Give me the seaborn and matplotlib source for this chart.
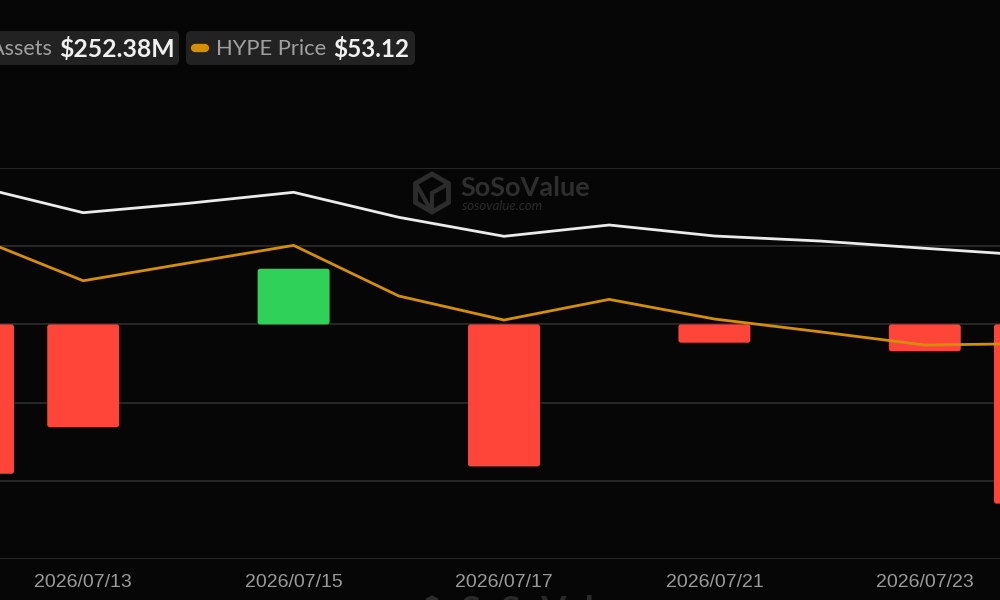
import numpy as np
import pandas as pd
import matplotlib
matplotlib.use("Agg")
import matplotlib.pyplot as plt
import seaborn as sns
from matplotlib.patches import FancyBboxPatch, RegularPolygon

# daily values, trading days only
DATES = ['2026/07/10', '2026/07/13', '2026/07/14', '2026/07/15', '2026/07/16', '2026/07/17',
         '2026/07/20', '2026/07/21', '2026/07/22', '2026/07/23', '2026/07/24']
NET_INFLOW = [-9.55, -6.57, 0.0, 3.56, 0.0, -9.08, 0.0, -1.17, 0.0, -1.71, -11.46]  # $M
NET_ASSETS = [293.42, 277.94, 283.58, 290.18, 275.18, 263.78, 270.56, 263.96, 260.96, 256.58, 252.38]  # $M
HYPE_PRICE = [61.54, 58.15, 59.57, 60.98, 56.93, 55.01, 56.66, 55.09, 54.07, 53.01, 53.12]
TICK_DATES = ['2026/07/13', '2026/07/15', '2026/07/17', '2026/07/21', '2026/07/23']

BG = '#060606'
GRID = '#2d2d2d'
RED = '#ff453a'
GREEN = '#30d158'
ORANGE = '#d48f06'
WHITE = '#ebebeb'
MARK = '#2c2c2c'

sns.set_style('dark', {'axes.facecolor': BG, 'figure.facecolor': BG})
plt.rcParams['font.family'] = ['Liberation Sans', 'DejaVu Sans']

df = pd.DataFrame({'date': DATES, 'inflow': NET_INFLOW, 'assets': NET_ASSETS, 'price': HYPE_PRICE})
df['sign'] = np.where(df['inflow'] >= 0, 'in', 'out')
df['pos'] = np.arange(len(df))

fig = plt.figure(figsize=(10, 6), dpi=100)
ax = fig.add_axes([0, 41 / 600, 1, 391 / 600])
ax.patch.set_visible(False)  # let the watermark underneath show through

sns.barplot(data=df, x='date', y='inflow', hue='sign', palette={'in': GREEN, 'out': RED},
            dodge=False, width=0.684, legend=False, ax=ax, order=DATES, saturation=1,
            linewidth=0, zorder=2)

# rounded corners on the bars
for p in list(ax.patches):
    if p.get_height() == 0:
        p.remove()
        continue
    x, y = p.get_xy()
    w, h = p.get_width(), p.get_height()
    fb = FancyBboxPatch((x, min(y, y + h)), w, abs(h), boxstyle='round,pad=0,rounding_size=0.025',
                        mutation_aspect=6.5, facecolor=p.get_facecolor(), edgecolor='none', zorder=2)
    p.remove()
    ax.add_patch(fb)

# assets and price each on their own hidden scale
ax_assets = ax.twinx()
sns.lineplot(data=df, x='pos', y='assets', color=WHITE, linewidth=2.0, ax=ax_assets)
ax_assets.set_ylim(70.16, 304.76)
ax_price = ax.twinx()
sns.lineplot(data=df, x='pos', y='price', color=ORANGE, linewidth=2.0, ax=ax_price)
ax_price.set_ylim(35.89, 67.17)

for a in (ax_assets, ax_price):
    a.set_yticks([])
    a.set_ylabel('')
    a.set_xlabel('')
    for s in a.spines.values():
        s.set_visible(False)

ax.set_ylim(-15, 10)
ax.set_yticks([-15, -10, -5, 0, 5, 10])
ax.set_yticklabels([])
ax.yaxis.grid(True, color=GRID, linewidth=1.2)
ax.xaxis.grid(False)
ax.set_xlim(0.209, 9.715)
ax.set_xticks([DATES.index(d) for d in TICK_DATES])
ax.set_xticklabels(TICK_DATES, color='#9a9a9a', fontsize=14)
ax.tick_params(axis='both', length=0)
ax.tick_params(axis='x', pad=11)
ax.set_xlabel('')
ax.set_ylabel('')
for s in ax.spines.values():
    s.set_visible(False)

# overlay in pixel units for legend chips and watermark
ov = fig.add_axes([0, 0, 1, 1], facecolor='none')
ov.set_xlim(0, 1000)
ov.set_ylim(600, 0)
ov.axis('off')
ov.set_zorder(-1)
ax.set_zorder(0)

for x0, x1 in [(-20, 179), (186, 415)]:
    ov.add_patch(FancyBboxPatch((x0, 31), x1 - x0, 34, boxstyle='round,pad=0,rounding_size=5',
                                facecolor='#222222', edgecolor='none'))
ov.text(52, 49, 'Total Net Assets', ha='right', va='center', color='#a0a0a0',
        fontsize=15.5, family='Lato')
ov.text(59, 49, '$252.38M', ha='left', va='center', color='#f0f0f0',
        fontsize=17.8, family='Lato', fontweight='bold')
ov.plot([195, 205], [48, 48], color=ORANGE, linewidth=6, solid_capstyle='round')
ov.text(216, 49, 'HYPE Price', ha='left', va='center', color='#a0a0a0',
        fontsize=15.8, family='Lato')
ov.text(333, 49, '$53.12', ha='left', va='center', color='#f0f0f0',
        fontsize=17.5, family='Lato', fontweight='bold')

# watermark: cube outline and wordmark
ov.add_patch(RegularPolygon((432, 193), 6, radius=19, orientation=0, facecolor='none',
                            edgecolor=MARK, linewidth=3.5))
ov.plot([432, 432, 416], [193, 212, 184], color=MARK, linewidth=3)
ov.plot([432, 448], [193, 184], color=MARK, linewidth=3)
ov.text(460, 188, 'SoSoValue', ha='left', va='center', color='#2e2e2e',
        fontsize=19.5, family='Lato', fontweight='bold')
ov.text(462, 206, 'sosovalue.com', ha='left', va='center', color='#2a2a2a',
        fontsize=9.5, family='Lato', style='italic')
ov.add_patch(RegularPolygon((432, 617), 6, radius=19, orientation=0, facecolor='none',
                            edgecolor=MARK, linewidth=3.5, clip_on=False))
ov.text(460, 612, 'SoSoValue', ha='left', va='center', color='#2a2a2a',
        fontsize=26, family='Lato', fontweight='bold')

fig.savefig('out.png', dpi=100, facecolor=BG)
